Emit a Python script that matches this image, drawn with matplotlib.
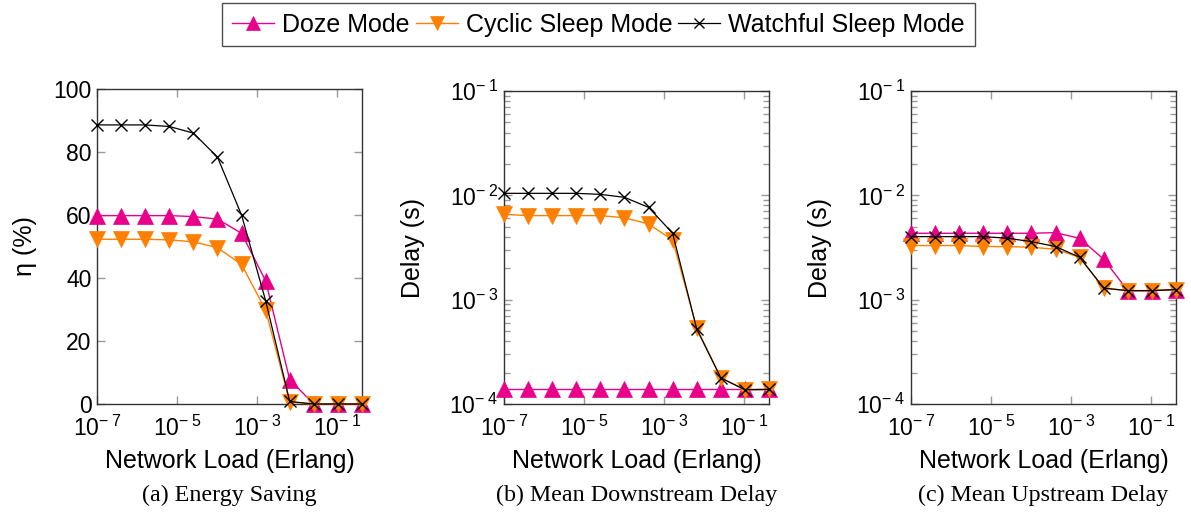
import math
import matplotlib
matplotlib.use("Agg")
import matplotlib.pyplot as plt
from matplotlib.ticker import FixedLocator, FuncFormatter, LogLocator, NullLocator
from matplotlib.lines import Line2D

plt.rcParams["font.family"] = ["Liberation Sans", "DejaVu Sans"]
plt.rcParams["mathtext.fontset"] = "custom"
plt.rcParams["mathtext.rm"] = "Liberation Sans"
plt.rcParams["mathtext.it"] = "Liberation Sans:italic"
plt.rcParams["mathtext.bf"] = "Liberation Sans:bold"

# Offered load (Erlang), geometric steps of x4
load = [1e-7, 4e-7, 1.6e-6, 6.4e-6, 2.56e-5, 1.024e-4, 4.096e-4,
        1.6384e-3, 6.5536e-3, 2.62144e-2, 1.048576e-1, 4.194304e-1]

series_names = ["Doze Mode", "Cyclic Sleep Mode", "Watchful Sleep Mode"]

# (a) energy saving, %
saving_doze = [59.8, 59.8, 59.8, 59.8, 59.5, 58.7, 54.2, 39.1, 7.7, 0.0, 0.0, 0.0]
saving_cyclic = [52.3, 52.3, 52.3, 52.1, 51.5, 49.6, 44.3, 29.8, 0.6, 0.0, 0.0, 0.0]
saving_watchful = [88.6, 88.6, 88.6, 88.1, 86.0, 78.4, 60.0, 32.8, 0.8, 0.0, 0.0, 0.0]

# (b) mean downstream delay, s
down_doze = [1.38e-4] * 12
down_cyclic = [6.58e-3, 6.39e-3, 6.39e-3, 6.39e-3, 6.39e-3, 6.1e-3, 5.31e-3,
               3.73e-3, 5.36e-4, 1.78e-4, 1.37e-4, 1.38e-4]
down_watchful = [1.045e-2, 1.045e-2, 1.045e-2, 1.045e-2, 1.022e-2, 9.57e-3, 7.67e-3,
                 4.33e-3, 5.23e-4, 1.78e-4, 1.37e-4, 1.38e-4]

# (c) mean upstream delay, s
up_doze = [4.33e-3, 4.33e-3, 4.33e-3, 4.33e-3, 4.33e-3, 4.33e-3, 4.39e-3,
           3.87e-3, 2.44e-3, 1.22e-3, 1.22e-3, 1.25e-3]
up_cyclic = [3.3e-3, 3.3e-3, 3.3e-3, 3.23e-3, 3.23e-3, 3.18e-3, 3.04e-3,
             2.55e-3, 1.29e-3, 1.22e-3, 1.22e-3, 1.25e-3]
up_watchful = [4.02e-3, 4.02e-3, 4.02e-3, 4.02e-3, 3.88e-3, 3.6e-3, 3.23e-3,
               2.55e-3, 1.29e-3, 1.22e-3, 1.22e-3, 1.25e-3]

x_tick_values = [1e-7, 1e-5, 1e-3, 1e-1]
y_labels = ["η (%)", "Delay (s)", "Delay (s)"]
x_label = "Network Load (Erlang)"
captions = ["(a) Energy Saving", "(b) Mean Downstream Delay", "(c) Mean Upstream Delay"]

colors = ["#e8008a", "#ff8000", "#000000"]
markers = ["^", "v", "x"]
msizes = [11, 11, 8.5]
lws = [1.0, 1.0, 0.9]

W, H = 1191.0, 513.0
fig = plt.figure(figsize=(W / 100, H / 100), dpi=100)
boxes = [(97, 89, 362, 404), (504, 91, 769, 404), (911, 91, 1176, 404)]
axes = [fig.add_axes([l / W, 1 - b / H, (r - l) / W, (b - t) / H]) for l, t, r, b in boxes]
ylabel_x = [25, 413, 820]

panels = [
    (saving_doze, saving_cyclic, saving_watchful),
    (down_doze, down_cyclic, down_watchful),
    (up_doze, up_cyclic, up_watchful),
]


def pow_label(v, pos):
    e = int(round(math.log10(v)))
    return r"$\mathregular{10^{-\;%d}}$" % abs(e)


for i, ax in enumerate(axes):
    for j, ys in enumerate(panels[i]):
        ax.plot(load, ys, color=colors[j], marker=markers[j], markersize=msizes[j],
                lw=lws[j], markeredgewidth=1.0 if j == 2 else 0.5,
                clip_on=False, zorder=3 + j)
    ax.set_xscale("log")
    ax.set_xlim(load[0], load[-1])
    ax.xaxis.set_major_locator(FixedLocator(x_tick_values))
    ax.xaxis.set_minor_locator(NullLocator())
    ax.xaxis.set_major_formatter(FuncFormatter(pow_label))
    if i == 0:
        ax.set_ylim(0, 100)
        ax.set_yticks([0, 20, 40, 60, 80, 100])
    else:
        ax.set_yscale("log")
        ax.set_ylim(1e-4, 1e-1)
        ax.yaxis.set_major_locator(FixedLocator([1e-4, 1e-3, 1e-2, 1e-1]))
        ax.yaxis.set_minor_locator(LogLocator(base=10, subs=range(2, 10)))
        ax.yaxis.set_major_formatter(FuncFormatter(pow_label))
    ax.tick_params(which="both", direction="in", top=True, right=True,
                   color="#9a9a9a", labelsize=16.5)
    ax.tick_params(axis="x", pad=8.5)
    ax.tick_params(axis="y", pad=4)
    ax.tick_params(which="major", length=6, width=1)
    ax.tick_params(which="minor", length=4, width=1)
    for s in ax.spines.values():
        s.set_color("#333333")
        s.set_linewidth(1.0)

    l, t, r, b = boxes[i]
    cx = (l + r) / 2 / W
    fig.text(cx, 1 - 468 / H, x_label, ha="center", va="baseline", fontsize=18)
    fig.text(cx, 1 - 501.5 / H, captions[i], ha="center", va="baseline",
             fontsize=17.3, family="Liberation Serif")
    fig.text(ylabel_x[i] / W, 1 - (t + b) / 2 / H, y_labels[i], rotation=90,
             ha="center", va="center", fontsize=18)

handles = [Line2D([], [], color=colors[j], marker=markers[j], markersize=msizes[j] - 1,
                  lw=lws[j], markeredgewidth=1.0 if j == 2 else 0.5)
           for j in range(3)]
leg = fig.legend(handles, series_names, loc="upper center", bbox_to_anchor=(0.5025, 0.994),
                 ncol=3, fontsize=18, frameon=True, fancybox=False, edgecolor="#222222",
                 handlelength=1.68, handletextpad=0.32, columnspacing=0.25,
                 borderpad=0.38, borderaxespad=0.0)
leg.get_frame().set_linewidth(1.0)

fig.savefig("out.png", dpi=100)
